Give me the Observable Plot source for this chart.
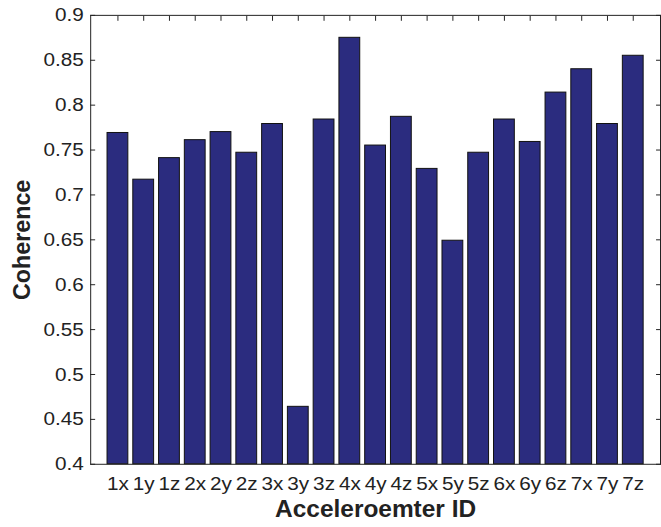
<!DOCTYPE html>
<html><head><meta charset="utf-8">
<script src="https://cdn.jsdelivr.net/npm/d3@7"></script>
<script src="https://cdn.jsdelivr.net/npm/@observablehq/plot@0.6"></script>
<style>html,body{margin:0;padding:0;overflow:hidden;background:#fff}</style>
</head><body><div id="chart"></div>
<script>
const ids = ["1x","1y","1z","2x","2y","2z","3x","3y","3z","4x","4y","4z","5x","5y","5z","6x","6y","6z","7x","7y","7z"];
const coherence = [0.769,0.717,0.741,0.761,0.770,0.747,0.779,0.464,0.784,0.875,0.755,0.787,0.729,0.649,0.747,0.784,0.759,0.814,0.840,0.779,0.855];
const yTicks = [0.4,0.45,0.5,0.55,0.6,0.65,0.7,0.75,0.8,0.85,0.9];
const xLabel = "Acceleroemter ID";
const yLabel = "Coherence";

const data = ids.map((id, i) => ({id, v: coherence[i]}));
const font = '"Liberation Sans", Arial, Helvetica, sans-serif';
const ink = "#222";

const chart = Plot.plot({
  width: 667, height: 527,
  marginLeft: 91, marginRight: 1, marginTop: 15, marginBottom: 59,
  style: {fontFamily: font, fontSize: "19px", color: ink, background: "#fff", overflow: "visible"},
  x: {type: "band", domain: ids, paddingInner: 0.2, paddingOuter: 0.6, label: null},
  y: {domain: [0.4, 0.9], label: null},
  marks: [
    Plot.barY(data, {x: "id", y1: 0.4, y2: "v", fill: "#2b2c7f", stroke: "#111", strokeWidth: 1}),
    Plot.frame({stroke: ink, strokeWidth: 1}),
    Plot.axisY(yTicks, {anchor: "left", tickSize: -5, tickPadding: 12, tickFormat: d => String(+d.toFixed(2)), label: null}),
    Plot.axisY(yTicks, {anchor: "right", tickSize: -5, tickFormat: () => "", label: null}),
    Plot.axisX(ids, {anchor: "top", tickSize: -5, tickFormat: () => "", label: null}),
    Plot.axisX(ids, {anchor: "bottom", tickSize: 0, tickPadding: 12, label: null}),
    Plot.text([yLabel], {frameAnchor: "left", dx: -69, rotate: -90, textAnchor: "middle", lineAnchor: "middle", text: d => d, fontWeight: "bold", fontSize: 23.5, fill: ink}),
    Plot.text([xLabel], {frameAnchor: "bottom", dy: 46, textAnchor: "middle", lineAnchor: "middle", text: d => d, fontWeight: "bold", fontSize: 23.5, fill: ink})
  ]
});
document.getElementById("chart").appendChild(chart);

// slight horizontal widening of glyphs to match the reference's text proportions
chart.querySelectorAll("text").forEach(t => {
  const tr = t.getAttribute("transform") || "";
  if (tr.includes("rotate") || !t.textContent) return;
  const s = t.textContent === xLabel ? 1.05 : 1.1;
  if (tr) {
    t.setAttribute("transform", `${tr} scale(${s},1)`);
  } else {
    const x = parseFloat(t.getAttribute("x"));
    if (!isFinite(x)) return;
    t.setAttribute("transform", `translate(${x},0) scale(${s},1) translate(${-x},0)`);
  }
});
</script>
</body></html>
